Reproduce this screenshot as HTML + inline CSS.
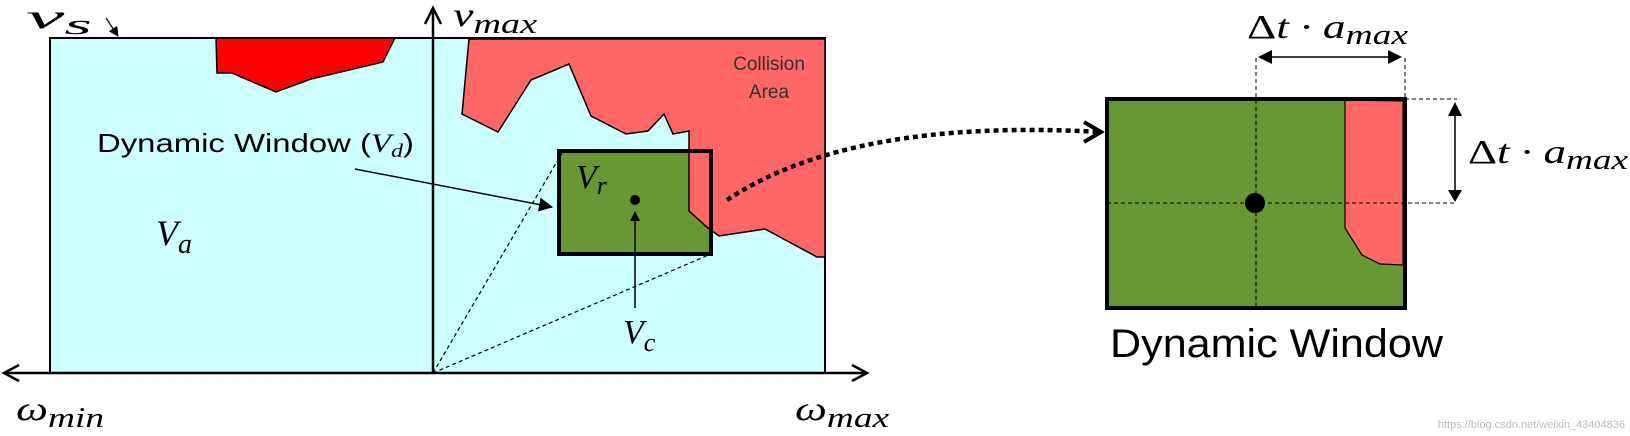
<!DOCTYPE html>
<html><head><meta charset="utf-8"><style>
html,body{margin:0;padding:0;background:#fff;}
svg{display:block}
.m{font-family:"Liberation Serif",serif;font-style:italic;}
.s{font-family:"Liberation Sans","Noto Sans CJK KR",sans-serif;}
</style></head><body>
<svg width="1630" height="436" viewBox="0 0 1630 436" xmlns="http://www.w3.org/2000/svg">
<defs>
<marker id="ah" markerWidth="10" markerHeight="10" refX="9" refY="5" orient="auto" markerUnits="userSpaceOnUse"><path d="M0,0 L10,5 L0,10 Z" fill="#000"/></marker>
<marker id="ah2" markerWidth="14" markerHeight="14" refX="13" refY="7" orient="auto" markerUnits="userSpaceOnUse"><path d="M0,0 L14,7 L0,14 Z" fill="#000"/></marker>
</defs>
<rect x="50" y="38" width="775" height="335" fill="#ccffff" stroke="#000" stroke-width="2"/>
<polygon points="216,38 395,38 383,62 311,79 276,92 232,73 217,73" fill="#ff0000" stroke="#000" stroke-width="1.5"/>
<rect x="559" y="151" width="152" height="103" fill="#669933"/>
<polygon points="469,39 825,39 825,257 817,257 765,229 719,236 708,228 689,211 689,131 673,134 664,114 648,131 626,134 591,116 569,64 531,80 498,132 462,114" fill="#ff6666" stroke="#000" stroke-width="1.5"/>
<rect x="559" y="151" width="152" height="103" fill="none" stroke="#000" stroke-width="4"/>
<line x1="433" y1="373" x2="562" y2="153" stroke="#000" stroke-width="1.2" stroke-dasharray="4,3"/>
<line x1="433" y1="373" x2="711" y2="254" stroke="#000" stroke-width="1.2" stroke-dasharray="4,3"/>
<line x1="433" y1="373" x2="433" y2="10" stroke="#000" stroke-width="2.5"/>
<path d="M425,24 L433,8 L441,24" fill="none" stroke="#000" stroke-width="2.5"/>
<line x1="5" y1="373" x2="866" y2="373" stroke="#000" stroke-width="2.5"/>
<path d="M19,365 L4,373 L19,381" fill="none" stroke="#000" stroke-width="2.5"/>
<path d="M852,365 L867,373 L852,381" fill="none" stroke="#000" stroke-width="2.5"/>
<line x1="355" y1="169" x2="552" y2="207" stroke="#000" stroke-width="1.5" marker-end="url(#ah2)"/>
<line x1="635" y1="308" x2="635" y2="212" stroke="#000" stroke-width="1.5" marker-end="url(#ah)"/>
<circle cx="635" cy="200" r="5" fill="#000"/>
<line x1="106" y1="18" x2="118" y2="36" stroke="#000" stroke-width="1.2" marker-end="url(#ah)"/>
<text x="26" y="28" class="m" font-size="34" textLength="66" lengthAdjust="spacingAndGlyphs">v<tspan font-size="28" dy="6">s</tspan></text>
<text x="453" y="26" class="m" font-size="34" textLength="84" lengthAdjust="spacingAndGlyphs">v<tspan font-size="28" dy="7">max</tspan></text>
<text x="769" y="70" class="s" font-size="19" text-anchor="middle" fill="#333">Collision</text>
<text x="769" y="98" class="s" font-size="19" text-anchor="middle" fill="#333">Area</text>
<text x="97" y="152" class="s" font-size="26" textLength="317" lengthAdjust="spacingAndGlyphs">Dynamic Window (<tspan class="m">V<tspan font-size="19" dy="5">d</tspan></tspan><tspan dy="-5">)</tspan></text>
<text x="156" y="245" class="m" font-size="36">V<tspan font-size="28" dy="8">a</tspan></text>
<text x="576" y="188" class="m" font-size="34">V<tspan font-size="26" dy="6">r</tspan></text>
<text x="623" y="343" class="m" font-size="34">V<tspan font-size="26" dy="8">c</tspan></text>
<text x="16" y="420" class="m" font-size="34" textLength="88" lengthAdjust="spacingAndGlyphs">ω<tspan font-size="28" dy="7">min</tspan></text>
<text x="795" y="420" class="m" font-size="34" textLength="94" lengthAdjust="spacingAndGlyphs">ω<tspan font-size="28" dy="7">max</tspan></text>
<path d="M727,200 Q850,118 1100,132" fill="none" stroke="#000" stroke-width="4.5" stroke-dasharray="5,4"/>
<path d="M1084,122 L1101,132 L1084,142" fill="none" stroke="#000" stroke-width="4"/>
<rect x="1107" y="99" width="298" height="209" fill="#669933"/>
<polygon points="1345,100 1403,101 1403,265 1380,264 1362,255 1345,228" fill="#ff6666" stroke="#000" stroke-width="1.2"/>
<line x1="1256" y1="58" x2="1256" y2="308" stroke="#000" stroke-width="1" stroke-dasharray="4,3"/>
<line x1="1405" y1="58" x2="1405" y2="99" stroke="#000" stroke-width="1" stroke-dasharray="4,3"/>
<line x1="1107" y1="203" x2="1457" y2="203" stroke="#000" stroke-width="1" stroke-dasharray="4,3"/>
<line x1="1405" y1="99" x2="1457" y2="99" stroke="#000" stroke-width="1" stroke-dasharray="4,3"/>
<rect x="1107" y="99" width="298" height="209" fill="none" stroke="#000" stroke-width="4"/>
<circle cx="1255" cy="203" r="10" fill="#000"/>
<line x1="1270" y1="57" x2="1390" y2="57" stroke="#000" stroke-width="1.5"/>
<path d="M1272,50 L1258,57 L1272,64 Z M1388,50 L1402,57 L1388,64 Z" fill="#000"/>
<line x1="1455" y1="115" x2="1455" y2="195" stroke="#000" stroke-width="1.5"/>
<path d="M1448,116 L1455,102 L1462,116 Z M1448,190 L1455,202 L1462,190 Z" fill="#000"/>
<text x="1247" y="38" class="m" font-size="34" textLength="161" lengthAdjust="spacingAndGlyphs"><tspan font-style="normal">Δ</tspan>t · a<tspan font-size="28" dy="6">max</tspan></text>
<text x="1468" y="163" class="m" font-size="34" textLength="160" lengthAdjust="spacingAndGlyphs"><tspan font-style="normal">Δ</tspan>t · a<tspan font-size="28" dy="6">max</tspan></text>
<text x="1110" y="357" class="s" font-size="40" textLength="333" lengthAdjust="spacingAndGlyphs">Dynamic Window</text>
<text x="1625" y="428" class="s" font-size="11" text-anchor="end" fill="#bbb">https://blog.csdn.net/weixin_43404836</text>
</svg>
</body></html>
